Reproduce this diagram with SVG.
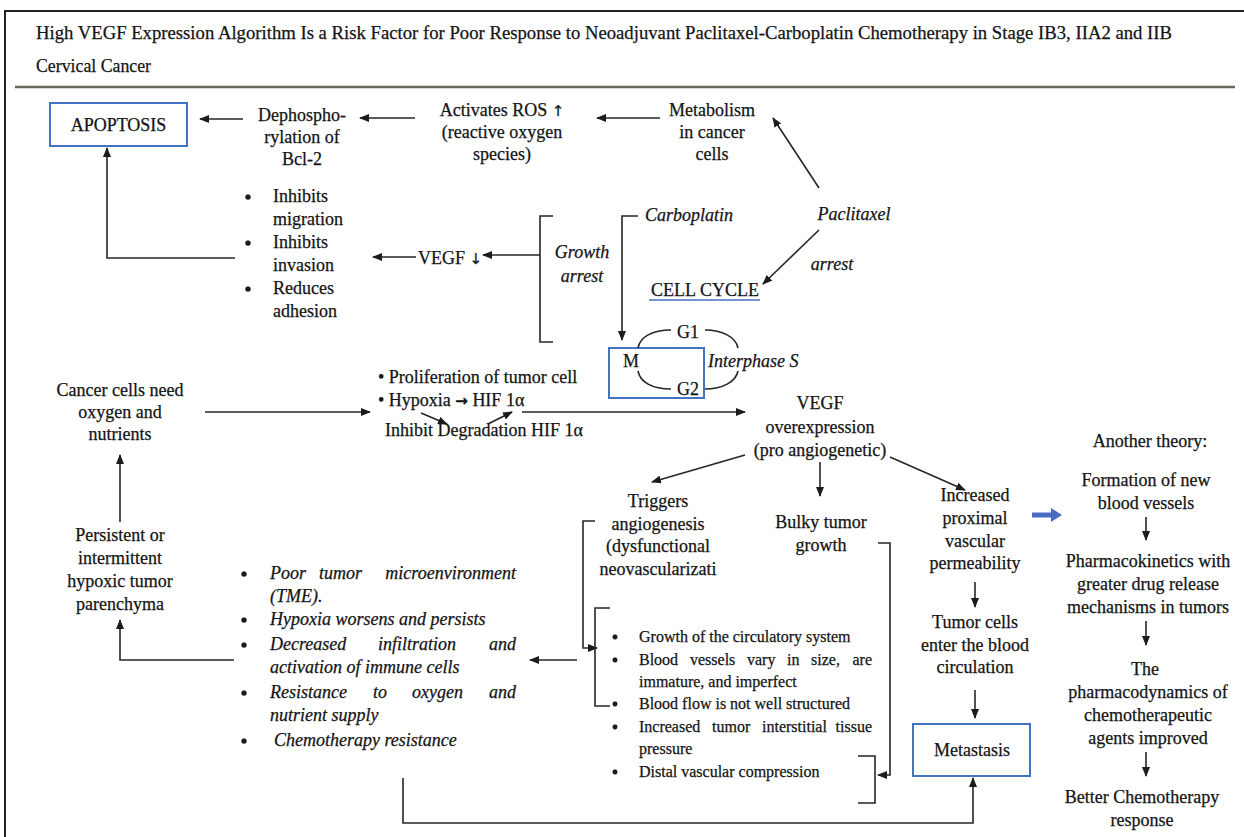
<svg xmlns="http://www.w3.org/2000/svg" width="1244" height="837" viewBox="0 0 1244 837">
  <style>
    .t { font-family: "Liberation Serif", "Times New Roman", serif; font-size: 18px; fill: #141414; stroke: #141414; stroke-width: 0.25; }
    .c { text-anchor: middle; }
    .e { text-anchor: end; }
    .i { font-style: italic; }
    .s { font-size: 16px; }
    .sym { font-family: "DejaVu Sans", sans-serif; font-size: 15px; }
    .ln { fill: none; stroke: #262626; stroke-width: 1.6; }
    .arr { marker-end: url(#ah); }
    .box { fill: none; stroke: #4472c4; stroke-width: 2; }
    .dot { fill: #1c1c1c; }
  </style>
  <defs>
    <marker id="ah" viewBox="0 0 10 8" refX="9" refY="4" markerWidth="10" markerHeight="8" markerUnits="userSpaceOnUse" orient="auto">
      <path d="M0,0 L10,4 L0,8 z" fill="#1c1c1c"/>
    </marker>
  </defs>

  <rect x="0" y="0" width="1244" height="837" fill="#ffffff"/>

  <!-- frame and title -->
  <g id="frame">
    <path d="M4,11 H1244 M5,11 V837" fill="none" stroke="#222" stroke-width="2"/>
    <path d="M15,87 H1235" fill="none" stroke="#6b6660" stroke-width="2.5"/>
  </g>
  <g id="title" class="t">
    <text x="36" y="39" textLength="1136" lengthAdjust="spacingAndGlyphs" style="font-size:19px">High VEGF Expression Algorithm Is a Risk Factor for Poor Response to Neoadjuvant Paclitaxel-Carboplatin Chemotherapy in Stage IB3, IIA2 and IIB</text>
    <text x="36" y="72" textLength="115" lengthAdjust="spacingAndGlyphs" style="font-size:19px">Cervical Cancer</text>
  </g>

  <!-- top row -->
  <g id="apoptosis">
    <rect class="box" x="50" y="103" width="137" height="43"/>
    <text class="t c" x="118.5" y="131">APOPTOSIS</text>
  </g>
  <g id="dephospho" class="t c">
    <text x="302" y="121">Dephospho-</text>
    <text x="302" y="143">rylation of</text>
    <text x="302" y="165">Bcl-2</text>
  </g>
  <g id="ros" class="t c">
    <text x="502" y="116">Activates ROS <tspan class="sym">↑</tspan></text>
    <text x="502" y="138">(reactive oxygen</text>
    <text x="502" y="160">species)</text>
  </g>
  <g id="metabolism" class="t c">
    <text x="712" y="116">Metabolism</text>
    <text x="712" y="138">in cancer</text>
    <text x="712" y="160">cells</text>
  </g>
  <g id="paclitaxel" class="t c i">
    <text x="854" y="220">Paclitaxel</text>
  </g>
  <g id="arrest-label" class="t c i">
    <text x="832" y="270">arrest</text>
  </g>
  <g id="carboplatin" class="t i">
    <text x="645" y="221">Carboplatin</text>
  </g>
  <g id="growth-arrest" class="t c i">
    <text x="582" y="258">Growth</text>
    <text x="582" y="282">arrest</text>
  </g>
  <g id="vegf-down" class="t">
    <text x="418" y="264">VEGF <tspan class="sym">↓</tspan></text>
  </g>
  <g id="inhibits" class="t">
    <circle class="dot" cx="248" cy="197" r="2.6"/>
    <circle class="dot" cx="248" cy="243" r="2.6"/>
    <circle class="dot" cx="248" cy="289" r="2.6"/>
    <text x="273" y="202">Inhibits</text>
    <text x="273" y="225">migration</text>
    <text x="273" y="248">Inhibits</text>
    <text x="273" y="271">invasion</text>
    <text x="273" y="294">Reduces</text>
    <text x="273" y="317">adhesion</text>
  </g>

  <!-- cell cycle -->
  <g id="cell-cycle-title">
    <text class="t c" x="705" y="296">CELL CYCLE</text>
    <path d="M649,300 H760" fill="none" stroke="#4472c4" stroke-width="1.5"/>
  </g>
  <g id="cell-cycle">
    <rect class="box" x="609" y="348" width="95" height="50"/>
    <text class="t" x="623" y="367">M</text>
    <text class="t c" x="688" y="338">G1</text>
    <text class="t c" x="688" y="395">G2</text>
    <text class="t i" x="708" y="367">Interphase S</text>
    <path class="ln" d="M638,348 C640,337 652,330 671,330 M705,330 C722,330 736,337 738,348 M638,371 C640,382 652,389 671,389 M705,389 C722,389 736,382 738,371"/>
  </g>

  <!-- middle row -->
  <g id="cancer-need" class="t c">
    <text x="120" y="396">Cancer cells need</text>
    <text x="120" y="418">oxygen and</text>
    <text x="120" y="440">nutrients</text>
  </g>
  <g id="proliferation" class="t">
    <text x="378" y="383">• Proliferation of tumor cell</text>
    <text x="378" y="406">• Hypoxia <tspan class="sym" style="font-weight:bold">→</tspan> HIF 1α</text>
    <text x="385" y="436">Inhibit Degradation HIF 1α</text>
  </g>
  <g id="vegf-over" class="t c">
    <text x="820" y="409">VEGF</text>
    <text x="820" y="433">overexpression</text>
    <text x="820" y="456">(pro angiogenetic)</text>
  </g>
  <g id="triggers" class="t c">
    <text x="658" y="507">Triggers</text>
    <text x="658" y="530">angiogenesis</text>
    <text x="658" y="552">(dysfunctional</text>
    <text x="658" y="575">neovascularizati</text>
  </g>
  <g id="bulky" class="t c">
    <text x="821" y="528">Bulky tumor</text>
    <text x="821" y="551">growth</text>
  </g>
  <g id="permeability" class="t c">
    <text x="975" y="501">Increased</text>
    <text x="975" y="524">proximal</text>
    <text x="975" y="547">vascular</text>
    <text x="975" y="569">permeability</text>
  </g>
  <g id="tumor-cells" class="t c">
    <text x="975" y="628">Tumor cells</text>
    <text x="975" y="651">enter the blood</text>
    <text x="975" y="673">circulation</text>
  </g>
  <g id="metastasis">
    <rect class="box" x="913" y="724" width="117" height="52"/>
    <text class="t c" x="972" y="756">Metastasis</text>
  </g>

  <!-- lower left -->
  <g id="persistent" class="t c">
    <text x="120" y="541">Persistent or</text>
    <text x="120" y="564">intermittent</text>
    <text x="120" y="587">hypoxic tumor</text>
    <text x="120" y="610">parenchyma</text>
  </g>
  <g id="tme" class="t i">
    <circle class="dot" cx="244" cy="574" r="2.6"/>
    <circle class="dot" cx="244" cy="620" r="2.6"/>
    <circle class="dot" cx="244" cy="645" r="2.6"/>
    <circle class="dot" cx="244" cy="693" r="2.6"/>
    <circle class="dot" cx="244" cy="741" r="2.6"/>
    <text y="579"><tspan x="270">Poor</tspan><tspan x="319">tumor</tspan></text>
    <text class="e" x="516" y="579">microenvironment</text>
    <text x="270" y="602">(TME).</text>
    <text x="270" y="625">Hypoxia worsens and persists</text>
    <text y="650"><tspan x="270">Decreased</tspan><tspan x="378">infiltration</tspan></text>
    <text class="e" x="516" y="650">and</text>
    <text x="270" y="673">activation of immune cells</text>
    <text y="698"><tspan x="270">Resistance</tspan><tspan x="373">to</tspan><tspan x="412">oxygen</tspan></text>
    <text class="e" x="516" y="698">and</text>
    <text x="270" y="721">nutrient supply</text>
    <text x="274" y="746">Chemotherapy resistance</text>
  </g>

  <!-- vascular consequences list -->
  <g id="vascular" class="t s">
    <circle class="dot" cx="615" cy="637" r="2.4"/>
    <circle class="dot" cx="615" cy="660" r="2.4"/>
    <circle class="dot" cx="615" cy="704" r="2.4"/>
    <circle class="dot" cx="615" cy="727" r="2.4"/>
    <circle class="dot" cx="615" cy="772" r="2.4"/>
    <text x="639" y="642">Growth of the circulatory system</text>
    <text y="665"><tspan x="639">Blood</tspan><tspan x="690">vessels</tspan><tspan x="747">vary</tspan><tspan x="787">in</tspan><tspan x="811">size,</tspan></text>
    <text class="e" x="872" y="665">are</text>
    <text x="639" y="687">immature, and imperfect</text>
    <text x="639" y="709">Blood flow is not well structured</text>
    <text y="732"><tspan x="639">Increased</tspan><tspan x="712">tumor</tspan><tspan x="762">interstitial</tspan></text>
    <text class="e" x="872" y="732">tissue</text>
    <text x="639" y="754">pressure</text>
    <text x="639" y="777">Distal vascular compression</text>
  </g>

  <!-- another theory column -->
  <g id="another-theory" class="t c">
    <text x="1150" y="447">Another theory:</text>
    <text x="1146" y="486">Formation of new</text>
    <text x="1146" y="509">blood vessels</text>
    <text x="1148" y="567">Pharmacokinetics with</text>
    <text x="1148" y="590">greater drug release</text>
    <text x="1148" y="613">mechanisms in tumors</text>
    <text x="1145" y="675">The</text>
    <text x="1148" y="698">pharmacodynamics of</text>
    <text x="1148" y="721">chemotherapeutic</text>
    <text x="1148" y="744">agents improved</text>
    <text x="1142" y="803">Better Chemotherapy</text>
    <text x="1142" y="826">response</text>
  </g>

  <!-- connectors -->
  <g id="connectors">
    <path class="ln arr" d="M243,119 H200"/>
    <path class="ln arr" d="M415,118 H360"/>
    <path class="ln arr" d="M660,118 H597"/>
    <path class="ln arr" d="M819,188 L773,118"/>
    <path class="ln arr" d="M819,230 L763,284"/>
    <path class="ln arr" d="M638,216 H622 V340"/>
    <path class="ln" d="M553,216 H540 V342 H553"/>
    <path class="ln arr" d="M540,255 H483"/>
    <path class="ln arr" d="M416,257 H373"/>
    <path class="ln arr" d="M235,258 H107 V148"/>
    <path class="ln arr" d="M205,412 H370"/>
    <path class="ln arr" d="M421,413 L447,424"/>
    <path class="ln arr" d="M488,424 L512,412"/>
    <path class="ln arr" d="M522,412 H745"/>
    <path class="ln arr" d="M745,455 L652,482"/>
    <path class="ln arr" d="M820,462 V496"/>
    <path class="ln arr" d="M890,457 L965,490"/>
    <path class="ln arr" d="M975,582 V607"/>
    <path class="ln arr" d="M975,690 V718"/>
    <path class="ln arr" d="M120,522 V455"/>
    <path class="ln arr" d="M234,660 H120 V620"/>
    <path class="ln arr" d="M595,521 H583 V648 H597"/>
    <path class="ln" d="M610,608 H595 V706 H610"/>
    <path class="ln arr" d="M577,660 H530"/>
    <path class="ln arr" d="M878,543 H890 V775 H878"/>
    <path class="ln" d="M858,756 H875 V803 H858"/>
    <path class="ln arr" d="M403,778 V823 H973 V778"/>
    <path class="ln arr" d="M1146,517 V540"/>
    <path class="ln arr" d="M1146,621 V645"/>
    <path class="ln arr" d="M1146,752 V776"/>
    <path d="M1032,512.5 H1051 V508 L1062,515 L1051,522 V517.5 H1032 z" fill="#4a6cc4"/>
  </g>
</svg>
